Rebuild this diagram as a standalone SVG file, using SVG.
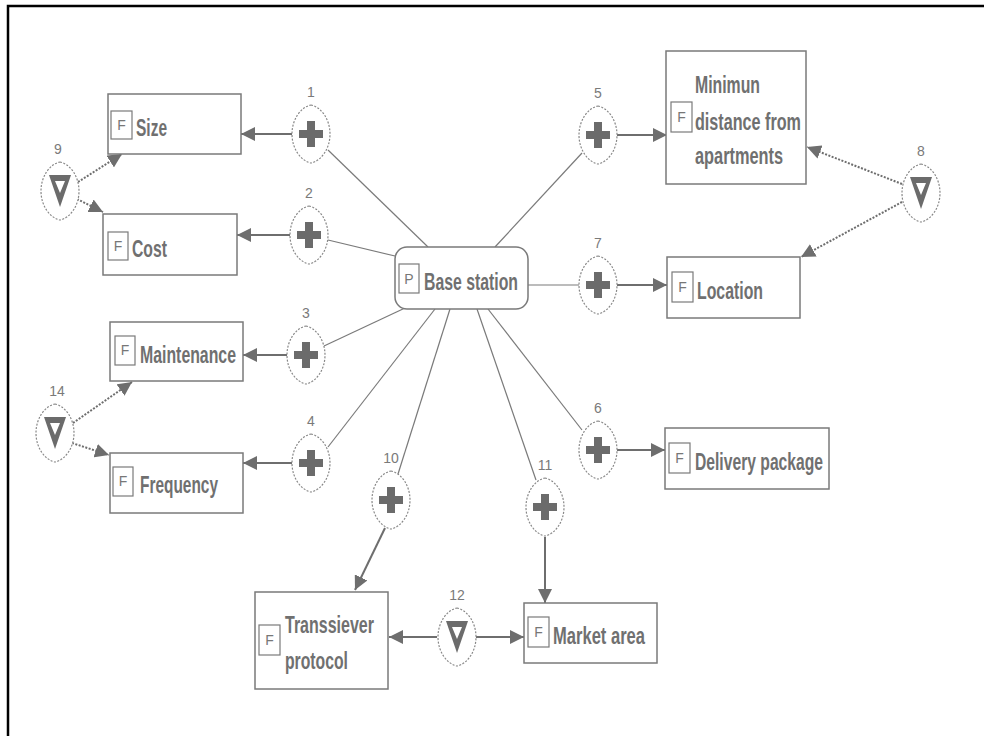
<svg xmlns="http://www.w3.org/2000/svg" width="984" height="736" viewBox="0 0 984 736">
<style>
.box{fill:#fff;stroke:#7a7a7a;stroke-width:1.5}
.fb{fill:#fff;stroke:#7a7a7a;stroke-width:1.2}
.fl{font-family:"Liberation Sans",Arial,sans-serif;font-size:14px;fill:#777;text-anchor:middle}
.t{font-family:"Liberation Sans Narrow","Liberation Sans",Arial,sans-serif;font-size:24px;font-weight:bold;fill:#707070}
.num{font-family:"Liberation Sans",Arial,sans-serif;font-size:14px;fill:#7a7a7a;text-anchor:middle}
.ln{stroke:#7a7a7a;stroke-width:1.2;fill:none}
.ar{stroke:#6e6e6e;stroke-width:2;fill:none;marker-end:url(#ah)}
.da{stroke:#6e6e6e;stroke-width:2;fill:none;stroke-dasharray:2 1.5;marker-end:url(#ah)}
.lem{fill:#fff;stroke:#888;stroke-width:1.2;stroke-dasharray:2 1.5}
.ic{fill:#6b6b6b}
</style>
<defs>
<marker id="ah" viewBox="0 0 14 14" refX="14" refY="7" markerWidth="14" markerHeight="14" markerUnits="userSpaceOnUse" orient="auto"><path d="M0,0 L14,7 L0,14 Z" fill="#6e6e6e"/></marker>
<path id="lemon" class="lem" d="M0,-29 C10,-27 19,-15 19,0 C19,15 10,27 0,29 C-10,27 -19,15 -19,0 C-19,-15 -10,-27 0,-29 Z"/>
<g id="plus"><use href="#lemon"/><rect class="ic" x="-12" y="-4" width="24" height="8"/><rect class="ic" x="-4" y="-13" width="8" height="26"/></g>
<g id="tri"><use href="#lemon"/><path class="ic" d="M-11,-16 L11,-16 L0,16 Z"/><path fill="#fff" d="M-5,-10 L5,-10 L0,2 Z"/></g>
</defs>
<rect width="984" height="736" fill="#fff"/>
<path d="M8,740 L8,6 L990,6" fill="none" stroke="#000" stroke-width="2.5"/>

<g id="connectors">
<line class="ln" x1="428" y1="247" x2="328" y2="150"/>
<line class="ln" x1="395" y1="256" x2="328" y2="240"/>
<line class="ln" x1="405" y1="308" x2="324" y2="346"/>
<line class="ln" x1="435" y1="309" x2="328" y2="447"/>
<line class="ln" x1="450" y1="309" x2="398" y2="474"/>
<line class="ln" x1="477" y1="309" x2="536" y2="480"/>
<line class="ln" x1="488" y1="309" x2="582" y2="430"/>
<line class="ln" x1="495" y1="247" x2="582" y2="153"/>
<line class="ln" x1="528" y1="285" x2="579" y2="285"/>
<line class="ar" x1="292" y1="134" x2="241" y2="134"/>
<line class="ar" x1="290" y1="235" x2="237" y2="235"/>
<line class="ar" x1="287" y1="355" x2="243" y2="355"/>
<line class="ar" x1="292" y1="463" x2="243" y2="463"/>
<line class="ar" x1="617" y1="135" x2="667" y2="135"/>
<line class="ar" x1="617" y1="285" x2="667" y2="285"/>
<line class="ar" x1="617" y1="450" x2="665" y2="450"/>
<line class="ar" x1="385" y1="528" x2="355" y2="590"/>
<line class="ar" x1="545" y1="537" x2="545" y2="603"/>
<line class="ar" x1="437" y1="637" x2="389" y2="637"/>
<line class="ar" x1="475" y1="637" x2="524" y2="637"/>
<line class="da" x1="902" y1="184" x2="807" y2="147"/>
<line class="da" x1="902" y1="202" x2="801" y2="257"/>
<line class="da" x1="78" y1="182" x2="122" y2="154"/>
<line class="da" x1="77" y1="199" x2="103" y2="212"/>
<line class="da" x1="73" y1="423" x2="132" y2="382"/>
<line class="da" x1="72" y1="443" x2="109" y2="455"/>
</g>

<g id="base-station">
<rect class="box" x="395" y="247" width="133" height="62" rx="12"/>
<rect class="fb" x="399" y="264" width="20" height="29"/><text class="fl" x="409" y="284">P</text>
<text class="t" x="424" y="290" textLength="94" lengthAdjust="spacingAndGlyphs">Base station</text>
</g>
<g id="size">
<rect class="box" x="108" y="94" width="133" height="60"/>
<rect class="fb" x="111" y="111" width="21" height="28"/><text class="fl" x="121.5" y="130">F</text>
<text class="t" x="136" y="136" textLength="31" lengthAdjust="spacingAndGlyphs">Size</text>
</g>
<g id="cost">
<rect class="box" x="103" y="214" width="134" height="61"/>
<rect class="fb" x="108" y="232" width="20" height="28"/><text class="fl" x="118" y="251">F</text>
<text class="t" x="132" y="257" textLength="35" lengthAdjust="spacingAndGlyphs">Cost</text>
</g>
<g id="maintenance">
<rect class="box" x="110" y="322" width="133" height="59"/>
<rect class="fb" x="115" y="336" width="20" height="29"/><text class="fl" x="125" y="355">F</text>
<text class="t" x="140" y="363" textLength="96" lengthAdjust="spacingAndGlyphs">Maintenance</text>
</g>
<g id="frequency">
<rect class="box" x="110" y="453" width="133" height="60"/>
<rect class="fb" x="113" y="467" width="20" height="29"/><text class="fl" x="123" y="486">F</text>
<text class="t" x="140" y="493" textLength="78" lengthAdjust="spacingAndGlyphs">Frequency</text>
</g>
<g id="min-distance">
<rect class="box" x="666" y="51" width="140" height="133"/>
<rect class="fb" x="671" y="102" width="21" height="30"/><text class="fl" x="681.5" y="122">F</text>
<text class="t" x="695" y="93" textLength="65" lengthAdjust="spacingAndGlyphs">Minimun</text>
<text class="t" x="695" y="130" textLength="106" lengthAdjust="spacingAndGlyphs">distance from</text>
<text class="t" x="695" y="164" textLength="88" lengthAdjust="spacingAndGlyphs">apartments</text>
</g>
<g id="location">
<rect class="box" x="667" y="257" width="133" height="61"/>
<rect class="fb" x="672" y="272" width="21" height="30"/><text class="fl" x="682.5" y="292">F</text>
<text class="t" x="697" y="299" textLength="66" lengthAdjust="spacingAndGlyphs">Location</text>
</g>
<g id="delivery-package">
<rect class="box" x="665" y="428" width="164" height="61"/>
<rect class="fb" x="669" y="443" width="21" height="30"/><text class="fl" x="679.5" y="463">F</text>
<text class="t" x="695" y="470" textLength="128" lengthAdjust="spacingAndGlyphs">Delivery package</text>
</g>
<g id="transsiever-protocol">
<rect class="box" x="255" y="592" width="133" height="97"/>
<rect class="fb" x="259" y="625" width="21" height="30"/><text class="fl" x="269.5" y="645">F</text>
<text class="t" x="285" y="633" textLength="89" lengthAdjust="spacingAndGlyphs">Transsiever</text>
<text class="t" x="285" y="669" textLength="63" lengthAdjust="spacingAndGlyphs">protocol</text>
</g>
<g id="market-area">
<rect class="box" x="524" y="603" width="133" height="60"/>
<rect class="fb" x="528" y="617" width="21" height="30"/><text class="fl" x="538.5" y="637">F</text>
<text class="t" x="553" y="644" textLength="92" lengthAdjust="spacingAndGlyphs">Market area</text>
</g>

<g id="n1"><use href="#plus" x="311" y="134"/><text class="num" x="311" y="97">1</text></g>
<g id="n2"><use href="#plus" x="309" y="235"/><text class="num" x="309" y="198">2</text></g>
<g id="n3"><use href="#plus" x="306" y="355"/><text class="num" x="306" y="318">3</text></g>
<g id="n4"><use href="#plus" x="311" y="463"/><text class="num" x="311" y="426">4</text></g>
<g id="n5"><use href="#plus" x="598" y="135"/><text class="num" x="598" y="98">5</text></g>
<g id="n7"><use href="#plus" x="598" y="285"/><text class="num" x="598" y="248">7</text></g>
<g id="n6"><use href="#plus" x="598" y="450"/><text class="num" x="598" y="413">6</text></g>
<g id="n10"><use href="#plus" x="391" y="500"/><text class="num" x="391" y="463">10</text></g>
<g id="n11"><use href="#plus" x="545" y="507"/><text class="num" x="545" y="470">11</text></g>
<g id="n9"><use href="#tri" x="60" y="191"/><text class="num" x="58" y="154">9</text></g>
<g id="n14"><use href="#tri" x="55" y="433"/><text class="num" x="57" y="396">14</text></g>
<g id="n8"><use href="#tri" x="921" y="193"/><text class="num" x="921" y="156">8</text></g>
<g id="n12"><use href="#tri" x="457" y="637"/><text class="num" x="457" y="600">12</text></g>
</svg>
